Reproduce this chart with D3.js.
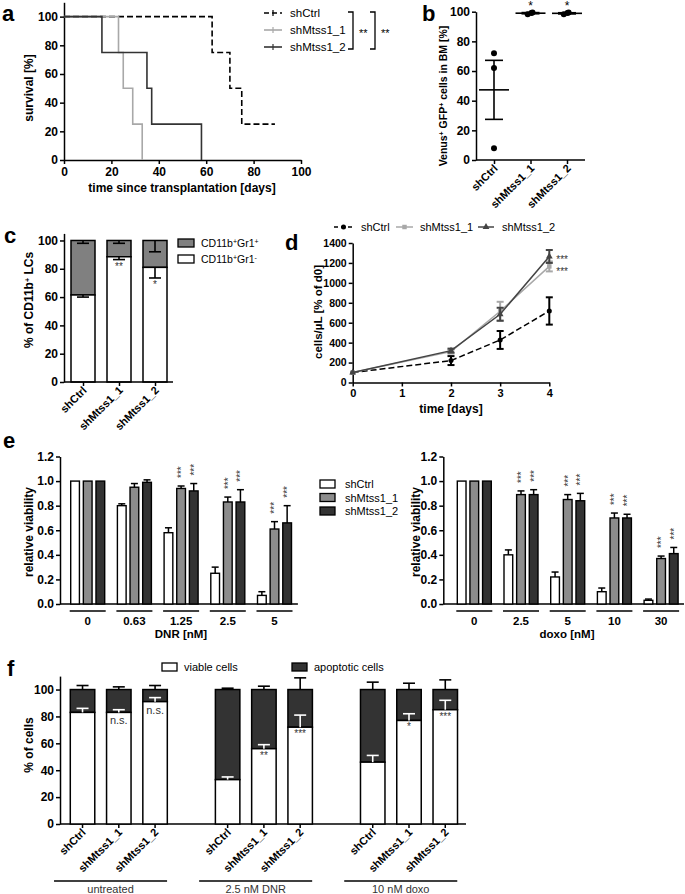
<!DOCTYPE html>
<html><head><meta charset="utf-8">
<script src="https://cdn.jsdelivr.net/npm/d3@7"></script>
<style>
body{margin:0;background:#fff}
svg{font-family:'Liberation Sans',Arial,Helvetica,sans-serif}
</style></head><body>
<svg id="fig" width="685" height="894"></svg>
<script>
// ---------- DATA ----------
// a: survival (Kaplan-Meier)
const aXTicks = [0,20,40,60,80,100];
const aYTicks = [0,20,40,60,80,100];
const survCtrlT = [0, 62.5, 70, 75, 89];
const survCtrlV = [100, 75, 50, 25, 25];
const survM1T = [0, 23, 25, 29, 33];
const survM1V = [100, 75, 50, 25, 0];
const survM2T = [0, 16, 35, 37, 58];
const survM2V = [100, 75, 50, 25, 0];
const strains = ["shCtrl", "shMtss1_1", "shMtss1_2"];

// b: Venus+GFP+ cells in BM
const bCtrl = [72, 62, 8];
const bM1 = [99.5, 98.3, 99.2];
const bM2 = [99.4, 98.2, 99.1];
const bMean = [47.3, 99, 98.9];
const bSem = [19.9, 0.4, 0.4];
const bStars = ["", "*", "*"];
const bYTicks = [0,20,40,60,80,100];

// c: CD11b+ LCs composition
const cViable = [61.5, 88.5, 81];      // CD11b+Gr1-
const cViableErr = [1.5, 2, 7.5];
const cGrErr = [2, 2, 8];
const cStars = ["", "**", "*"];
const cYTicks = [0,20,40,60,80,100];

// d: growth curves
const dDays = [0, 2, 3, 4];
const dCtrl = [100, 220, 427, 718];
const dCtrlErr = [0, 45, 90, 137];
const dM1 = [100, 310, 715, 1165];
const dM1Err = [0, 20, 95, 50];
const dM2 = [100, 320, 685, 1265];
const dM2Err = [0, 20, 65, 65];
const dYTicks = [0,200,400,600,800,1000,1200,1400];
const dXTicks = [0,1,2,3,4];

// e: relative viability
const eDNRdoses = ["0", "0.63", "1.25", "2.5", "5"];
const eDNRctrl = [1.0, 0.80, 0.58, 0.25, 0.07];
const eDNRctrlErr = [0, 0.015, 0.04, 0.05, 0.03];
const eDNRm1 = [1.0, 0.95, 0.94, 0.83, 0.61];
const eDNRm1Err = [0, 0.03, 0.02, 0.04, 0.06];
const eDNRm2 = [1.0, 0.99, 0.92, 0.83, 0.66];
const eDNRm2Err = [0, 0.02, 0.06, 0.10, 0.14];
const eDNRstars = ["", "", "***", "***", "***"];
const eDoxoDoses = ["0", "2.5", "5", "10", "30"];
const eDoxoCtrl = [1.0, 0.40, 0.22, 0.10, 0.03];
const eDoxoCtrlErr = [0, 0.04, 0.04, 0.03, 0.01];
const eDoxoM1 = [1.0, 0.89, 0.85, 0.70, 0.37];
const eDoxoM1Err = [0, 0.03, 0.04, 0.04, 0.02];
const eDoxoM2 = [1.0, 0.89, 0.84, 0.70, 0.41];
const eDoxoM2Err = [0, 0.04, 0.06, 0.03, 0.05];
const eDoxoStars = ["", "***", "***", "***", "***"];
const eYTicks = [0, 0.2, 0.4, 0.6, 0.8, 1.0, 1.2];

// f: viable / apoptotic
const fGroups = ["untreated", "2.5 nM DNR", "10 nM doxo"];
const fViableCtrl = [83, 33, 46];
const fViableM1 = [83, 56, 77];
const fViableM2 = [91, 72, 85];
const fViableErrCtrl = [3, 2, 5];
const fViableErrM1 = [2, 3, 5];
const fViableErrM2 = [3, 9, 7];
const fApopErrCtrl = [3, 1, 5.5];
const fApopErrM1 = [2, 2.5, 4.7];
const fApopErrM2 = [3, 8.7, 7.2];
const fLabM1 = ["n.s.", "**", "*"];
const fLabM2 = ["n.s.", "***", "***"];
const fYTicks = [0,20,40,60,80,100];

// ---------- HELPERS ----------
const FONT = "'Liberation Sans', Arial, Helvetica, sans-serif";
const svg = d3.select("#fig");
function styleAxis(g, fs) {
  g.selectAll("path,line").attr("stroke", "#000").attr("stroke-width", 1.5);
  g.selectAll("text").attr("font-size", fs || 12).attr("font-weight", "bold")
    .attr("fill", "#000").attr("font-family", FONT);
  return g;
}
function leftAxis(scale, x, ticks, fmt, fs) {
  const g = svg.append("g").attr("transform", `translate(${x},0)`)
    .call(d3.axisLeft(scale).tickValues(ticks).tickSize(4).tickSizeOuter(0).tickPadding(2)
      .tickFormat(fmt || d3.format("d")));
  return styleAxis(g, fs);
}
function hline(x1, x2, y, w) {
  svg.append("line").attr("x1", x1).attr("x2", x2).attr("y1", y).attr("y2", y)
    .attr("stroke", "#000").attr("stroke-width", w || 1.5);
}
function text(x, y, s, o) {
  o = o || {};
  const t = svg.append("text").attr("x", x).attr("y", y).text(s)
    .attr("font-size", o.size || 12).attr("font-weight", o.bold ? "bold" : "normal")
    .attr("text-anchor", o.anchor || "start").attr("fill", o.fill || "#000");
  if (o.rot) t.attr("transform", `rotate(${o.rot},${x},${y})`);
  return t;
}
function rotLabels(g) {
  g.selectAll(".tick text").attr("x", 0).attr("y", 0).attr("dy", 0)
    .attr("transform", "translate(4,9) rotate(-45)").attr("text-anchor", "end")
    .attr("font-size", 11);
}
function errBar(g, x, y1, y2, half, color, w) {
  g.append("line").attr("x1", x).attr("x2", x).attr("y1", y1).attr("y2", y2)
    .attr("stroke", color).attr("stroke-width", w || 1.5);
  g.append("line").attr("x1", x - half).attr("x2", x + half).attr("y1", y2).attr("y2", y2)
    .attr("stroke", color).attr("stroke-width", w || 1.5);
}
function letter(x, y, s) { text(x, y, s, { size: 22, bold: true }); }

// ---------- PANEL A ----------
{
  const ax = d3.scaleLinear().domain([0, 100]).range([64, 301]);
  const ay = d3.scaleLinear().domain([0, 110]).range([160, 2.3]);
  leftAxis(ay, 64, aYTicks);
  styleAxis(svg.append("g").attr("transform", "translate(0,160)")
    .call(d3.axisBottom(ax).tickValues(aXTicks).tickSize(4).tickSizeOuter(0)));
  const line = d3.line().x(d => ax(d[0])).y(d => ay(d[1])).curve(d3.curveStepAfter);
  const series = [
    { t: survCtrlT, v: survCtrlV, c: "#000", dash: "6,3" },
    { t: survM1T, v: survM1V, c: "#a8a8a8", dash: null },
    { t: survM2T, v: survM2V, c: "#333", dash: null }
  ];
  series.forEach(s => {
    const pts = s.t.map((t, i) => [t, s.v[i]]);
    svg.append("path").attr("d", line(pts)).attr("fill", "none").attr("stroke", s.c)
      .attr("stroke-width", 1.6).attr("stroke-dasharray", s.dash);
  });
  text(33, 88, "survival [%]", { bold: true, anchor: "middle", rot: -90 });
  text(182, 192, "time since transplantation [days]", { bold: true, anchor: "middle" });
  // legend
  const ly = [13, 30, 47];
  series.forEach((s, i) => {
    svg.append("line").attr("x1", 264).attr("x2", 282).attr("y1", ly[i]).attr("y2", ly[i])
      .attr("stroke", s.c).attr("stroke-width", 1.6).attr("stroke-dasharray", s.dash ? "5,3" : null);
    svg.append("line").attr("x1", 273).attr("x2", 273).attr("y1", ly[i] - 3).attr("y2", ly[i] + 3)
      .attr("stroke", s.c).attr("stroke-width", 1.2);
    text(290, ly[i] + 4, strains[i], { size: 11.5 });
  });
  // significance brackets
  const br = (x, y1, y2) => svg.append("path")
    .attr("d", `M${x - 5},${y1}H${x}V${y2}H${x - 5}`).attr("fill", "none")
    .attr("stroke", "#000").attr("stroke-width", 1.3);
  br(353, 12, 49);
  text(359, 37, "**", { size: 11 });
  br(375, 12, 49);
  text(381, 37, "**", { size: 11 });
  letter(2, 21, "a");
}

// ---------- PANEL B ----------
{
  const bx = d3.scalePoint().domain(strains).range([494, 567]);
  const by = d3.scaleLinear().domain([0, 100]).range([160, 11.7]);
  leftAxis(by, 476, bYTicks);
  const gx = svg.append("g").attr("transform", "translate(0,160)")
    .call(d3.axisBottom(bx).tickSize(4).tickSizeOuter(0));
  gx.select(".domain").remove();
  styleAxis(gx); rotLabels(gx);
  hline(476, 585, 160);
  const pts = [bCtrl, bM1, bM2];
  pts.forEach((arr, i) => {
    const cx = bx(strains[i]);
    arr.forEach(v => svg.append("circle").attr("cx", cx + (i ? (v - 99) * 4 : 0)).attr("cy", by(v)).attr("r", 3).attr("fill", "#000"));
    const g = svg.append("g");
    hline(cx - 15, cx + 15, by(bMean[i]), 1.6);
    g.append("line").attr("x1", cx).attr("x2", cx).attr("y1", by(bMean[i] - bSem[i])).attr("y2", by(bMean[i] + bSem[i]))
      .attr("stroke", "#000").attr("stroke-width", 1.6);
    [bMean[i] - bSem[i], bMean[i] + bSem[i]].forEach(v => hline(cx - 9, cx + 9, by(v), 1.6));
    if (bStars[i]) text(cx, 10, bStars[i], { size: 12, anchor: "middle" });
  });
  svg.append("text").attr("transform", "translate(447,96) rotate(-90)").attr("text-anchor", "middle")
    .attr("font-size", 10.5).attr("font-weight", "bold")
    .html('Venus<tspan baseline-shift="super" font-size="7">+</tspan> GFP<tspan baseline-shift="super" font-size="7">+</tspan> cells in BM [%]');
  letter(422, 21, "b");
}

// ---------- PANEL C ----------
{
  const cx = d3.scalePoint().domain(strains).range([83, 155]);
  const cy = d3.scaleLinear().domain([0, 105]).range([382, 233.4]);
  leftAxis(cy, 64, cYTicks);
  const gx = svg.append("g").attr("transform", "translate(0,382)")
    .call(d3.axisBottom(cx).tickSize(4).tickSizeOuter(0));
  gx.select(".domain").remove();
  styleAxis(gx); rotLabels(gx);
  strains.forEach((s, i) => {
    const x = cx(s), w = 24;
    svg.append("rect").attr("x", x - w / 2).attr("y", cy(100)).attr("width", w)
      .attr("height", cy(cViable[i]) - cy(100)).attr("fill", "#808080").attr("stroke", "#000").attr("stroke-width", 1.5);
    svg.append("rect").attr("x", x - w / 2).attr("y", cy(cViable[i])).attr("width", w)
      .attr("height", cy(0) - cy(cViable[i])).attr("fill", "#fff").attr("stroke", "#000").attr("stroke-width", 1.5);
    const g = svg.append("g");
    errBar(g, x, cy(100), cy(100 - cGrErr[i]), 6, "#000", 1.6);
    errBar(g, x, cy(cViable[i]), cy(cViable[i] - cViableErr[i]), 6, "#000", 1.6);
    if (cStars[i]) text(x, cy(cViable[i] - cViableErr[i]) + 10, cStars[i], { size: 10, anchor: "middle", fill: "#333" });
  });
  hline(64, 173, 382);
  svg.append("text").attr("transform", "translate(33,300) rotate(-90)").attr("text-anchor", "middle")
    .attr("font-size", 12).attr("font-weight", "bold")
    .html('% of CD11b<tspan baseline-shift="super" font-size="7">+</tspan> LCs');
  svg.append("rect").attr("x", 178).attr("y", 239).attr("width", 16).attr("height", 8).attr("fill", "#808080").attr("stroke", "#000").attr("stroke-width", 1.3);
  svg.append("rect").attr("x", 178).attr("y", 255).attr("width", 16).attr("height", 8).attr("fill", "#fff").attr("stroke", "#000").attr("stroke-width", 1.3);
  svg.append("text").attr("x", 201).attr("y", 247).attr("font-size", 10.5)
    .html('CD11b<tspan baseline-shift="super" font-size="7">+</tspan>Gr1<tspan baseline-shift="super" font-size="7">+</tspan>');
  svg.append("text").attr("x", 201).attr("y", 263).attr("font-size", 10.5)
    .html('CD11b<tspan baseline-shift="super" font-size="7">+</tspan>Gr1<tspan baseline-shift="super" font-size="7">-</tspan>');
  letter(4, 243, "c");
}

// ---------- PANEL D ----------
{
  const dx = d3.scaleLinear().domain([0, 4]).range([352.7, 549.3]);
  const dy = d3.scaleLinear().domain([0, 1400]).range([382.5, 243]);
  leftAxis(dy, 352.7, dYTicks, d3.format("d"), 10.5);
  styleAxis(svg.append("g").attr("transform", "translate(0,382.5)")
    .call(d3.axisBottom(dx).tickValues(dXTicks).tickFormat(d3.format("d")).tickSize(4).tickSizeOuter(0)), 11);
  const ser = [
    { v: dCtrl, e: dCtrlErr, c: "#000", dash: "6,3", m: "circle", ew: 2 },
    { v: dM1, e: dM1Err, c: "#a8a8a8", dash: null, m: "square", ew: 2 },
    { v: dM2, e: dM2Err, c: "#444", dash: null, m: "triangle", ew: 2 }
  ];
  const line = d3.line().x((d, i) => dx(dDays[i])).y(d => dy(d));
  const sym = { circle: d3.symbolCircle, square: d3.symbolSquare, triangle: d3.symbolTriangle };
  ser.forEach(s => {
    svg.append("path").attr("d", line(s.v)).attr("fill", "none").attr("stroke", s.c)
      .attr("stroke-width", 1.5).attr("stroke-dasharray", s.dash);
    const g = svg.append("g");
    s.v.forEach((v, i) => {
      if (s.e[i] > 0) {
        const x = dx(dDays[i]);
        g.append("line").attr("x1", x).attr("x2", x).attr("y1", dy(v - s.e[i])).attr("y2", dy(v + s.e[i])).attr("stroke", s.c).attr("stroke-width", s.ew);
        [v - s.e[i], v + s.e[i]].forEach(yv => g.append("line").attr("x1", x - 3.5).attr("x2", x + 3.5).attr("y1", dy(yv)).attr("y2", dy(yv)).attr("stroke", s.c).attr("stroke-width", s.ew));
      }
      g.append("path").attr("d", d3.symbol().type(sym[s.m]).size(20)())
        .attr("transform", `translate(${dx(dDays[i])},${dy(v)})`).attr("fill", s.c);
    });
  });
  text(dx(4) + 7, dy(dM2[3]) + 7, "***", { size: 10, fill: "#333" });
  text(dx(4) + 7, dy(dM1[3]) + 9, "***", { size: 10, fill: "#333" });
  text(451, 413, "time [days]", { bold: true, anchor: "middle" });
  text(322, 312, "cells/µL [% of d0]", { bold: true, anchor: "middle", rot: -90, size: 11.5 });
  // legend
  const lg = [{ x1: 334, x2: 353, tx: 361 }, { x1: 396, x2: 413, tx: 420 }, { x1: 478, x2: 494, tx: 502 }];
  lg.forEach((l, i) => {
    const s = ser[i];
    svg.append("line").attr("x1", l.x1).attr("x2", l.x2).attr("y1", 227).attr("y2", 227)
      .attr("stroke", s.c).attr("stroke-width", 1.5).attr("stroke-dasharray", s.dash ? "4,3" : null);
    svg.append("path").attr("d", d3.symbol().type(sym[s.m]).size(20)())
      .attr("transform", `translate(${(l.x1 + l.x2) / 2},227)`).attr("fill", s.c);
    text(l.tx, 231, strains[i], { size: 11 });
  });
  letter(285, 250, "d");
}

// ---------- PANEL E ----------
const eFill = ["#fff", "#8c8c8c", "#333"];
function viability(axisX, bandStart, doses, vals, errs, stars, title, titleX) {
  const ey = d3.scaleLinear().domain([0, 1.2]).range([604, 456.5]);
  const ex = d3.scaleBand().domain(doses).range([bandStart, bandStart + 46.7 * doses.length]);
  const ex1 = d3.scaleBand().domain(strains).range([6.3, 40.3]).paddingInner(0.31);
  leftAxis(ey, axisX, eYTicks, d3.format(".1f"));
  hline(axisX, Math.min(684, bandStart + 46.7 * doses.length), 604);
  doses.forEach((d, gi) => {
    const g0 = ex(d);
    strains.forEach((s, si) => {
      const x = g0 + ex1(s), w = ex1.bandwidth(), v = vals[si][gi], e = errs[si][gi];
      svg.append("rect").attr("x", x).attr("y", ey(v)).attr("width", w).attr("height", ey(0) - ey(v))
        .attr("fill", eFill[si]).attr("stroke", "#000").attr("stroke-width", 1.4);
      const cxm = x + w / 2;
      if (e > 0) errBar(svg.append("g"), cxm, ey(v), ey(v + e), 3.5, "#000", 1.5);
      if (si > 0 && stars[gi]) text(cxm + 4, ey(v + e) - 8, stars[gi], { size: 10, rot: -90, fill: "#333" });
    });
    hline(g0 + ex1(strains[0]) - 1, g0 + ex1(strains[2]) + ex1.bandwidth() + 1, 611, 1.3);
    text(g0 + 23.3, 624.5, d, { size: 11.5, bold: true, anchor: "middle" });
  });
  text(titleX, 638, title, { bold: true, anchor: "middle", size: 11.5 });
}
viability(60, 64.4, eDNRdoses, [eDNRctrl, eDNRm1, eDNRm2], [eDNRctrlErr, eDNRm1Err, eDNRm2Err], eDNRstars, "DNR [nM]", 181);
viability(443.3, 451, eDoxoDoses, [eDoxoCtrl, eDoxoM1, eDoxoM2], [eDoxoCtrlErr, eDoxoM1Err, eDoxoM2Err], eDoxoStars, "doxo [nM]", 567);
text(33, 532, "relative viability", { bold: true, anchor: "middle", rot: -90 });
text(420, 532, "relative viability", { bold: true, anchor: "middle", rot: -90 });
[484, 497.5, 511].forEach((y, i) => {
  svg.append("rect").attr("x", 320).attr("y", y - 4).attr("width", 15).attr("height", 8)
    .attr("fill", eFill[i]).attr("stroke", "#000").attr("stroke-width", 1.3);
  text(345, y + 4, strains[i], { size: 11 });
});
letter(3, 448, "e");

// ---------- PANEL F ----------
{
  const fy = d3.scaleLinear().domain([0, 110]).range([824, 676.1]);
  const fx = d3.scaleBand().domain(fGroups).range([58.5, 493.8]);
  const fx1 = d3.scaleBand().domain(strains).range([0, 120.6]).padding(0.325);
  leftAxis(fy, 60, fYTicks);
  hline(60, 466, 824);
  const viable = [fViableCtrl, fViableM1, fViableM2];
  const vErr = [fViableErrCtrl, fViableErrM1, fViableErrM2];
  const aErr = [fApopErrCtrl, fApopErrM1, fApopErrM2];
  const labs = [["", "", ""], fLabM1, fLabM2];
  fGroups.forEach((grp, gi) => {
    const g0 = fx(grp);
    const gx = svg.append("g").attr("transform", `translate(${g0},824)`)
      .call(d3.axisBottom(fx1).tickSize(4).tickSizeOuter(0));
    gx.select(".domain").remove();
    styleAxis(gx); rotLabels(gx);
    strains.forEach((s, si) => {
      const x = g0 + fx1(s), w = fx1.bandwidth(), v = viable[si][gi];
      svg.append("rect").attr("x", x).attr("y", fy(100)).attr("width", w).attr("height", fy(v) - fy(100))
        .attr("fill", "#333").attr("stroke", "#000").attr("stroke-width", 1.5);
      svg.append("rect").attr("x", x).attr("y", fy(v)).attr("width", w).attr("height", fy(0) - fy(v))
        .attr("fill", "#fff").attr("stroke", "#000").attr("stroke-width", 1.5);
      const c = x + w / 2;
      errBar(svg.append("g"), c, fy(100), fy(100 + aErr[si][gi]), 6, "#000", 1.6);
      errBar(svg.append("g"), c, fy(v), fy(v + vErr[si][gi]), 6, "#fff", 1.6);
      const l = labs[si][gi];
      if (l) text(c, fy(v) + (l === "n.s." ? 12 : 10), l, { size: l === "n.s." ? 11 : 10, anchor: "middle", fill: "#333" });
    });
    const xa = g0 + fx1(strains[0]) + fx1.bandwidth() / 2 - 28.5;
    const xb = g0 + fx1(strains[2]) + fx1.bandwidth() / 2 + 12;
    hline(xa, xb, 881, 1.3);
    text((xa + xb) / 2, 893, grp, { size: 11, anchor: "middle", fill: "#333" });
  });
  text(33, 745, "% of cells", { bold: true, anchor: "middle", rot: -90 });
  svg.append("rect").attr("x", 162).attr("y", 663).attr("width", 15).attr("height", 8).attr("fill", "#fff").attr("stroke", "#000").attr("stroke-width", 1.3);
  text(184, 671, "viable cells", { size: 11 });
  svg.append("rect").attr("x", 292).attr("y", 663).attr("width", 15).attr("height", 8).attr("fill", "#333").attr("stroke", "#000").attr("stroke-width", 1.3);
  text(314, 671, "apoptotic cells", { size: 11 });
  letter(7, 676, "f");
}
</script>
</body></html>
